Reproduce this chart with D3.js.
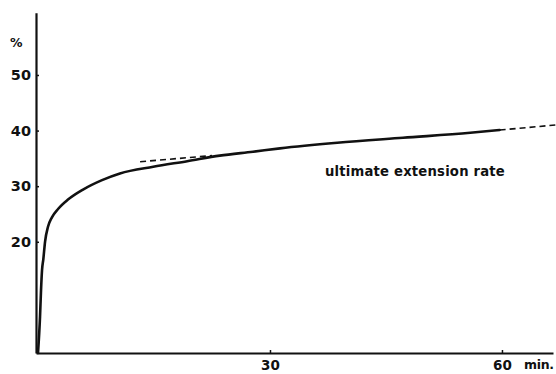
<!DOCTYPE html>
<html>
<head>
<meta charset="utf-8">
<script src="https://cdn.jsdelivr.net/npm/d3@7/dist/d3.min.js"></script>
<style>
  html, body { margin: 0; padding: 0; background: #fff; }
  svg { display: block; }
  text { font-family: "DejaVu Sans", sans-serif; font-weight: bold; fill: #111; }
</style>
</head>
<body>
<svg id="chart" width="556" height="374"></svg>
<script>
// ---- data ----
const timeMin      = [0, 0.26, 0.39, 0.52, 0.69, 0.91, 1.29, 1.8, 2.59, 3.88, 5.82, 8.28, 10.6, 14.9, 19.3, 23.5, 27.8, 31.3, 38.7, 47.2, 55.9, 59.7];
const extensionPct = [0, 6.5, 11.3, 14.9, 16.9, 20.0, 22.7, 24.4, 25.9, 27.6, 29.4, 31.1, 32.3, 33.5, 34.5, 35.5, 36.2, 36.8, 37.8, 38.7, 39.6, 40.1];
// tangent ("ultimate extension rate"), drawn dashed where it is visible
const tangentLeftT  = [13.2, 22.5];
const tangentLeftV  = [34.4, 35.5];
const tangentRightT = [59.7, 66.9];
const tangentRightV = [40.1, 41.0];
const yTicks = [20, 30, 40, 50];
const xTicks = [30, 60];
const yUnit = "%";
const xUnit = "min.";
const annotation = "ultimate extension rate";

// ---- layout ----
const svg = d3.select("#chart");
const x = d3.scaleLinear().domain([-0.26, 66.6]).range([36, 553]);
const y = d3.scaleLinear().domain([0, 61.2]).range([353, 12.7]);

const line = d3.line().x(d => x(d[0])).y(d => y(d[1]));
const smooth = d3.line().x(d => x(d[0])).y(d => y(d[1])).curve(d3.curveMonotoneX);

// y axis
const gy = svg.append("g").attr("transform", `translate(${x(-0.26)},0)`)
  .call(d3.axisLeft(y).tickValues(yTicks).tickSizeInner(-3).tickSizeOuter(0).tickPadding(5));
gy.select(".domain").attr("stroke", "#111").attr("stroke-width", 2.2);
gy.selectAll(".tick line").attr("stroke", "#111").attr("stroke-width", 1.5);
gy.selectAll(".tick text").attr("font-size", 14.5).attr("fill", "#111");

// x axis
const gx = svg.append("g").attr("transform", `translate(0,${y(0)})`)
  .call(d3.axisBottom(x).tickValues(xTicks).tickSizeInner(-3).tickSizeOuter(0).tickPadding(7));
gx.select(".domain").attr("stroke", "#111").attr("stroke-width", 2.2);
gx.selectAll(".tick line").attr("stroke", "#111").attr("stroke-width", 1.5);
gx.selectAll(".tick text").attr("font-size", 13.5).attr("fill", "#111");

svg.selectAll("g").attr("font-family", null).attr("font-size", null);

// unit labels
svg.append("text").attr("x", 10).attr("y", 47).attr("font-size", 12.5).text(yUnit);
svg.append("text").attr("x", 524).attr("y", 369).attr("font-size", 12.5).attr("letter-spacing", -0.3).text(xUnit);

// dashed tangent
[[tangentLeftT, tangentLeftV], [tangentRightT, tangentRightV]].forEach(([ts, vs]) => {
  svg.append("path")
    .attr("d", line(ts.map((t, i) => [t, vs[i]])))
    .attr("fill", "none").attr("stroke", "#111").attr("stroke-width", 1.6)
    .attr("stroke-dasharray", "6,4");
});

// curve
svg.append("path")
  .attr("d", smooth(timeMin.map((t, i) => [t, extensionPct[i]])))
  .attr("fill", "none").attr("stroke", "#111").attr("stroke-width", 2.6)
  .attr("stroke-linejoin", "round").attr("stroke-linecap", "round");

// annotation
svg.append("text").attr("x", 325).attr("y", 176).attr("font-size", 13.2).attr("letter-spacing", 0.2).text(annotation);
</script>
</body>
</html>
